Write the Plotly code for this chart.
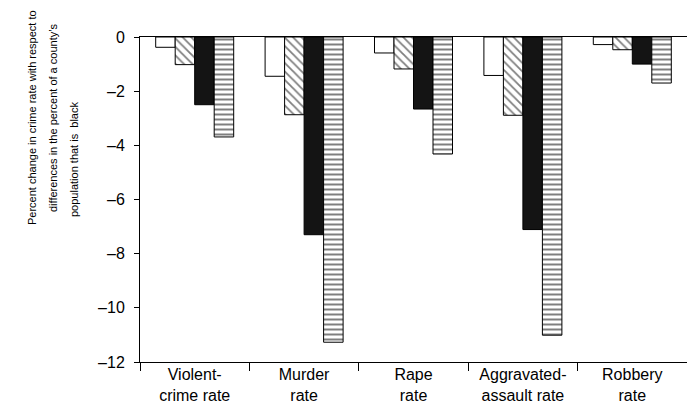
import plotly.graph_objects as go

categories = ["Violent-<br>crime rate", "Murder<br>rate", "Rape<br>rate",
              "Aggravated-<br>assault rate", "Robbery<br>rate"]
series_a = [-0.38, -1.45, -0.59, -1.42, -0.28]   # white
series_b = [-1.02, -2.87, -1.18, -2.89, -0.47]   # diagonal hatch
series_c = [-2.50, -7.30, -2.66, -7.11, -1.00]   # solid black
series_d = [-3.69, -11.27, -4.32, -11.01, -1.70] # horizontal stripes
y_ticks = [0, -2, -4, -6, -8, -10, -12]
title_lines = ["Percent change in crime rate with respect to",
               "differences in the percent of a county\u2019s",
               "population that is  black"]

# page has an 8px body margin; figure sized to fill the rest of the window
OFF = 8
W, H = 695 - OFF, 407 - OFF
# plot area in window pixels: left 140, right 687, top 37, bottom 362
PL, PR, PT, PB = 140, 687, 37, 362
L, T = PL - OFF, PT - OFF
R, B = W - (PR - OFF), H - (PB - OFF)
pw, ph = PR - PL, PB - PT

fig = go.Figure()
styles = [
    dict(color="white", pattern=None),
    dict(color="white", pattern=dict(shape="\\", fgcolor="black", bgcolor="white", size=6, solidity=0.3)),
    dict(color="#141414", pattern=None),
    dict(color="white", pattern=dict(shape="-", fgcolor="black", bgcolor="white", size=5, solidity=0.4)),
]
for vals, st in zip([series_a, series_b, series_c, series_d], styles):
    marker = dict(color=st["color"], line=dict(color="black", width=1))
    if st["pattern"]:
        marker["pattern"] = st["pattern"]
    fig.add_trace(go.Bar(x=categories, y=vals, marker=marker, showlegend=False))

fig.update_layout(
    width=W, height=H,
    margin=dict(l=L, r=R, t=T, b=B, pad=0),
    paper_bgcolor="white", plot_bgcolor="white",
    barmode="group", bargap=0.287, bargroupgap=0,
    font=dict(family="Liberation Sans, Arial, sans-serif", color="black"),
)
fig.update_xaxes(
    showline=True, linecolor="black", linewidth=1, mirror=True,
    ticks="outside", ticklen=8, tickcolor="black", tickson="boundaries",
    tickfont=dict(size=16), showgrid=False, automargin=False,
    ticklabelstandoff=-2,
)
fig.update_yaxes(
    range=[-12, 0], tickvals=y_ticks, ticktext=[str(v).replace("-", "\u2013") for v in y_ticks],
    showline=True, linecolor="black", linewidth=1, mirror=True,
    ticks="outside", ticklen=5, tickcolor="black", tickfont=dict(size=16),
    showgrid=False, zeroline=False, automargin=False, ticklabelstandoff=6,
)

centers = [(32, 118), (53, 118), (74, 160)]  # window pixels
for txt, (cx, cy) in zip(title_lines, centers):
    fig.add_annotation(
        text=txt, textangle=-90, showarrow=False,
        xref="paper", yref="paper",
        x=(cx - PL) / pw, y=(PB - cy) / ph,
        xanchor="center", yanchor="middle",
        font=dict(family="Liberation Sans, Arial, sans-serif", size=11),
    )

fig.write_html("out.html")
